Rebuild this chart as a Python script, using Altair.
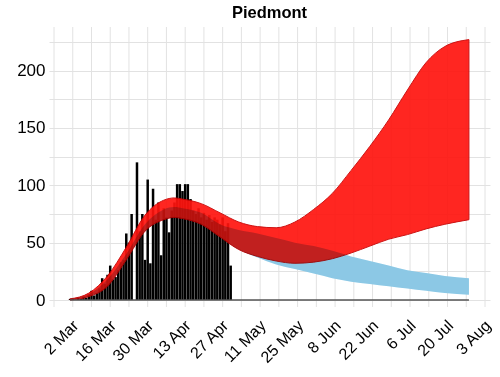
import altair as alt
import pandas as pd

TITLE = "Piedmont"

# daily reported values (bars), starting 2020-02-29
bar_start = "2020-02-29"
bar_values = [0, 1, 1, 0, 2, 1, 3, 2, 5, 8, 4, 6, 10, 19, 14, 22, 30, 18, 20, 26,
              33, 35, 58, 50, 75, 0, 120, 60, 75, 35, 105, 32, 97, 70, 85, 39, 80,
              72, 59, 78, 85, 101, 101, 95, 101, 101, 88, 78, 75, 80, 72, 76, 70,
              74, 68, 72, 70, 66, 72, 60, 67, 30]

# model bands
band_dates = ["2020-03-01", "2020-03-08", "2020-03-15", "2020-03-22", "2020-03-29",
              "2020-04-05", "2020-04-09", "2020-04-12", "2020-04-19", "2020-04-26",
              "2020-05-03", "2020-05-10", "2020-05-17", "2020-05-24", "2020-05-31",
              "2020-06-07", "2020-06-14", "2020-06-21", "2020-06-28", "2020-07-05",
              "2020-07-12", "2020-07-19", "2020-07-28"]
red_upper = [1, 6, 21, 46, 74, 87, 89, 88, 84, 76, 68, 64, 63, 68, 79, 93, 113, 134,
             157, 183, 207, 221, 227]
red_lower = [0, 3, 12, 35, 60, 70, 72, 71, 66, 55, 44, 38, 34, 32, 33, 36, 41, 47,
             53, 57, 62, 66, 70]
blue_upper = [1, 5, 18, 40, 66, 79, 81, 80, 76, 66, 61, 58, 54, 50, 47, 43, 38, 34,
              30, 26, 23.5, 21, 19]
blue_lower = [0, 3, 12, 35, 60, 70, 72, 71, 66, 55, 44, 37, 31, 27, 23, 19, 16, 14,
              12, 10, 8, 6, 4.5]

# axis
x_start = "2020-02-24"
x_end = "2020-08-03"
x_label_dates = ["2020-03-02", "2020-03-16", "2020-03-30", "2020-04-13", "2020-04-27",
                 "2020-05-11", "2020-05-25", "2020-06-08", "2020-06-22", "2020-07-06",
                 "2020-07-20", "2020-08-03"]
y_grid = [0, 25, 50, 75, 100, 125, 150, 175, 200, 225]
y_max = 238


def ms(d):
    return int(pd.Timestamp(d, tz="UTC").value // 10**6)


bars = pd.DataFrame({
    "date": [d.strftime("%Y-%m-%d") for d in pd.date_range(bar_start, periods=len(bar_values), freq="D")],
    "value": bar_values,
})
red = pd.DataFrame({"date": band_dates, "upper": red_upper, "lower": red_lower})
blue = pd.DataFrame({"date": band_dates, "upper": blue_upper, "lower": blue_lower})
zero = pd.DataFrame({"start": [band_dates[0]], "end": [band_dates[-1]], "y": [0]})
weeks = pd.DataFrame({"date": [d.strftime("%Y-%m-%d") for d in pd.date_range(x_start, x_end, freq="7D")]})

FONT = "Liberation Sans"
GRID = "#e2e2e2"

xscale = alt.Scale(type="utc", domain=[ms(x_start), ms(x_end)], nice=False)
xaxis = alt.Axis(
    values=[ms(d) for d in x_label_dates],
    labelExpr="utcFormat(datum.value, '%-d %b')",
    labelAngle=-45, labelFont=FONT, labelFontSize=16, labelColor="black",
    labelPadding=17, labelOffset=-3, title=None, grid=False, domain=False,
    ticks=False, labelOverlap=False, labelFlush=False, labelBound=False,
)
yscale = alt.Scale(domain=[0, y_max], nice=False)
yaxis = alt.Axis(
    values=y_grid, labelExpr="datum.value % 50 == 0 ? datum.label : ''",
    labelFont=FONT, labelFontSize=17, labelColor="black", labelPadding=4,
    title=None, grid=True, gridColor=GRID, domain=False, ticks=False,
)


def X(field):
    return alt.X(field, type="temporal", scale=xscale, axis=xaxis)


def Y(field):
    return alt.Y(field, type="quantitative", scale=yscale, axis=yaxis)


week_grid = alt.Chart(weeks).mark_rule(color=GRID, strokeWidth=1).encode(
    x=X("date"), y=alt.value(0), y2=alt.value(280),
)
blue_base = alt.Chart(blue).mark_area(
    interpolate="monotone", color="#b4dff1",
).encode(x=X("date"), y=Y("upper"), y2="lower")
bar_layer = alt.Chart(bars).mark_bar(size=2.5, color="black").encode(
    x=X("date"), y=Y("value"),
)
red_layer = alt.Chart(red).mark_area(
    interpolate="monotone", color="#ff140f", opacity=0.92,
    stroke="#c80000", strokeWidth=1,
).encode(x=X("date"), y=Y("upper"), y2="lower")
blue_tint = alt.Chart(blue).mark_area(
    interpolate="monotone", color="#8dcbe8", blend="multiply", opacity=0.5,
).encode(x=X("date"), y=Y("upper"), y2="lower")
zero_layer = alt.Chart(zero).mark_rule(color="#555555", strokeWidth=1.5).encode(
    x=X("start"), x2="end", y=Y("y"),
)

chart = alt.layer(week_grid, blue_base, bar_layer, red_layer, blue_tint, zero_layer).properties(
    width=441, height=273,
    title=alt.TitleParams(TITLE, font=FONT, fontSize=16.5, fontWeight="bold",
                          anchor="middle", offset=5, color="black"),
    autosize=alt.AutoSizeParams(type="none"),
    padding={"left": 49, "top": 27, "right": 10, "bottom": 77},
).configure_view(stroke=None)

chart.save("out.html", embed_options={"renderer": "svg", "actions": False})
